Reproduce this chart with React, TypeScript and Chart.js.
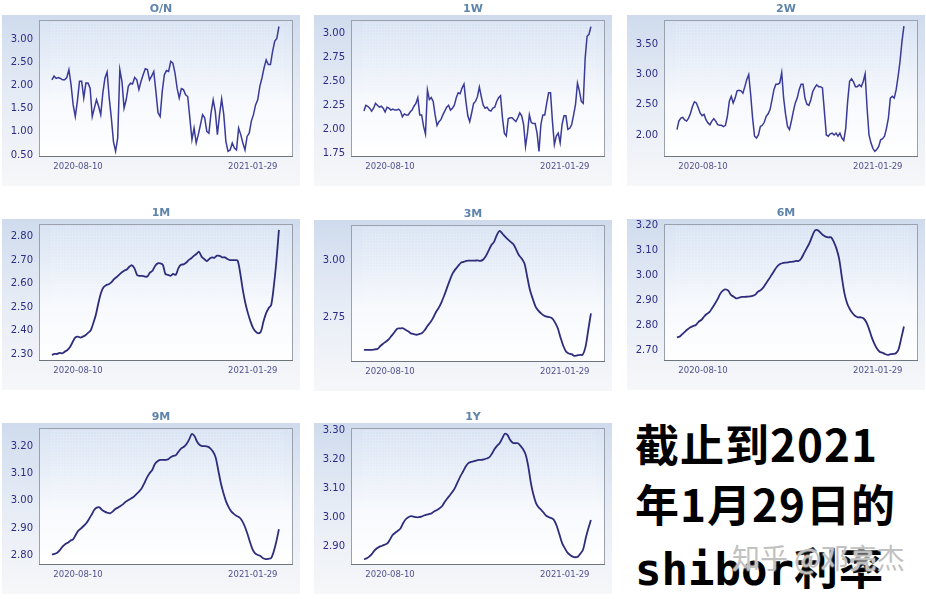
import React, { useEffect, useRef } from 'react';
import { Chart, registerables } from 'chart.js';

Chart.register(...registerables);

// ---------------- data ----------------
const X_TICK_LABELS = ['2020-08-10', '2021-01-29'];
const X_TICK_POS = [0.115, 0.885];

const ON_TICKS = [0.5, 1.0, 1.5, 2.0, 2.5, 3.0];
const ON_VALUES = [
  2.12, 2.20, 2.15, 2.17, 2.15, 2.12, 2.12, 2.17, 2.34, 2.02, 1.58, 1.33, 1.66, 2.09, 2.09, 1.73, 2.05, 2.05,
  1.94, 1.33, 1.51, 1.69, 1.55, 1.37, 1.84, 2.16, 2.29, 1.73, 1.30, 0.79, 0.58, 0.87, 2.34, 2.09, 1.51, 1.69,
  1.98, 2.05, 2.03, 2.17, 2.12, 1.91, 2.09, 2.23, 2.36, 2.34, 2.12, 2.20, 2.30, 1.87, 1.41, 1.33, 1.87, 2.23,
  2.32, 2.30, 2.52, 2.48, 2.27, 1.94, 1.73, 1.93, 1.91, 1.80, 1.76, 1.30, 0.83, 1.08, 0.76, 0.94, 1.15, 1.37,
  1.30, 1.01, 0.97, 1.41, 1.69, 1.44, 0.94, 1.37, 1.71, 1.37, 0.79, 0.58, 0.61, 0.76, 0.65, 0.61, 1.08, 0.94,
  0.76, 0.61, 0.90, 0.97, 1.23, 1.37, 1.58, 1.69, 1.98, 2.16, 2.38, 2.55, 2.45, 2.45, 2.73, 2.95, 3.01, 3.27,
];

const W1_TICKS = [1.75, 2.0, 2.25, 2.5, 2.75, 3.0];
const W1_VALUES = [
  2.19, 2.25, 2.24, 2.22, 2.19, 2.22, 2.27, 2.25, 2.23, 2.24, 2.22, 2.18, 2.23, 2.22, 2.20, 2.21, 2.20, 2.20,
  2.21, 2.19, 2.13, 2.16, 2.15, 2.15, 2.18, 2.20, 2.24, 2.27, 2.33, 2.15, 2.15, 2.03, 1.95, 2.41, 2.31, 2.33,
  2.29, 2.15, 2.04, 2.08, 2.10, 2.15, 2.19, 2.23, 2.25, 2.20, 2.22, 2.25, 2.33, 2.38, 2.37, 2.43, 2.47, 2.29,
  2.14, 2.08, 2.17, 2.27, 2.29, 2.34, 2.44, 2.34, 2.25, 2.22, 2.23, 2.20, 2.19, 2.22, 2.23, 2.29, 2.33, 2.35,
  2.12, 1.96, 1.93, 2.11, 2.12, 2.12, 2.10, 2.08, 2.12, 2.17, 2.14, 2.05, 1.82, 1.96, 2.15, 2.07, 2.06, 2.06,
  1.96, 1.77, 2.05, 2.15, 2.15, 2.27, 2.38, 2.38, 2.08, 1.84, 1.93, 1.96, 1.86, 2.05, 2.14, 2.14, 2.00, 2.01,
  2.05, 2.15, 2.26, 2.48, 2.40, 2.29, 2.27, 2.74, 2.97, 2.99, 3.07,
];

const W2_TICKS = [2.0, 2.5, 3.0, 3.5];
const W2_VALUES = [
  2.09, 2.23, 2.28, 2.29, 2.25, 2.23, 2.28, 2.36, 2.47, 2.55, 2.53, 2.45, 2.36, 2.32, 2.34, 2.25, 2.20, 2.17,
  2.23, 2.27, 2.23, 2.17, 2.16, 2.16, 2.14, 2.16, 2.31, 2.56, 2.64, 2.53, 2.61, 2.73, 2.74, 2.73, 2.69, 2.80,
  2.92, 3.00, 2.67, 2.28, 1.98, 1.95, 2.00, 2.14, 2.16, 2.21, 2.31, 2.35, 2.42, 2.58, 2.75, 2.84, 2.84, 2.86,
  3.03, 2.61, 2.34, 2.14, 2.09, 2.23, 2.39, 2.53, 2.61, 2.75, 2.84, 2.84, 2.61, 2.51, 2.49, 2.58, 2.72, 2.78,
  2.83, 2.80, 2.80, 2.78, 2.39, 2.00, 1.98, 2.02, 2.03, 2.00, 2.03, 1.98, 2.03, 1.95, 1.91, 2.11, 2.56, 2.89,
  2.93, 2.88, 2.80, 2.80, 2.83, 2.80, 2.88, 3.01, 2.45, 2.00, 1.87, 1.78, 1.73, 1.76, 1.81, 1.92, 1.94, 1.98,
  2.11, 2.28, 2.61, 2.64, 2.61, 2.75, 2.97, 3.22, 3.55, 3.80,
];

const M1_TICKS = [2.3, 2.4, 2.5, 2.6, 2.7, 2.8];
const M1_VALUES = [
  2.296, 2.300, 2.300, 2.305, 2.303, 2.310, 2.317, 2.330, 2.350, 2.370, 2.374, 2.370, 2.374, 2.380, 2.390,
  2.400, 2.430, 2.466, 2.516, 2.560, 2.584, 2.593, 2.597, 2.605, 2.618, 2.627, 2.637, 2.647, 2.655, 2.660,
  2.672, 2.678, 2.665, 2.637, 2.633, 2.633, 2.630, 2.630, 2.647, 2.655, 2.675, 2.686, 2.686, 2.680, 2.641,
  2.637, 2.633, 2.641, 2.637, 2.665, 2.680, 2.682, 2.689, 2.700, 2.708, 2.718, 2.726, 2.736, 2.715, 2.705,
  2.696, 2.705, 2.712, 2.710, 2.719, 2.718, 2.712, 2.712, 2.705, 2.700, 2.700, 2.700, 2.698, 2.644, 2.573,
  2.516, 2.473, 2.438, 2.410, 2.395, 2.388, 2.395, 2.438, 2.473, 2.495, 2.509, 2.587, 2.694, 2.829,
];

const M3_TICKS = [2.75, 3.0];
const M3_VALUES = [
  2.604, 2.604, 2.604, 2.604, 2.606, 2.609, 2.622, 2.632, 2.641, 2.652, 2.667, 2.682, 2.698, 2.699, 2.700,
  2.693, 2.686, 2.677, 2.674, 2.671, 2.674, 2.679, 2.692, 2.711, 2.726, 2.746, 2.771, 2.790, 2.815, 2.845,
  2.879, 2.912, 2.942, 2.961, 2.976, 2.990, 2.994, 2.999, 3.000, 3.000, 3.000, 3.001, 2.999, 3.004, 3.019,
  3.043, 3.068, 3.083, 3.113, 3.132, 3.120, 3.106, 3.094, 3.083, 3.073, 3.049, 3.024, 3.009, 2.987, 2.927,
  2.868, 2.830, 2.796, 2.778, 2.766, 2.756, 2.751, 2.749, 2.744, 2.726, 2.701, 2.659, 2.622, 2.597, 2.588,
  2.585, 2.577, 2.579, 2.582, 2.582, 2.615, 2.689, 2.766,
];

const M6_TICKS = [2.7, 2.8, 2.9, 3.0, 3.1, 3.2];
const M6_VALUES = [
  2.753, 2.756, 2.766, 2.776, 2.785, 2.793, 2.798, 2.802, 2.815, 2.822, 2.835, 2.846, 2.853, 2.869, 2.886,
  2.904, 2.926, 2.939, 2.944, 2.939, 2.922, 2.915, 2.908, 2.911, 2.914, 2.914, 2.915, 2.916, 2.918, 2.923,
  2.935, 2.941, 2.952, 2.968, 2.984, 3.001, 3.018, 3.034, 3.044, 3.048, 3.050, 3.051, 3.053, 3.054, 3.057,
  3.057, 3.067, 3.087, 3.107, 3.127, 3.154, 3.177, 3.180, 3.171, 3.160, 3.154, 3.151, 3.151, 3.134, 3.107,
  3.067, 2.994, 2.928, 2.888, 2.865, 2.849, 2.838, 2.833, 2.833, 2.829, 2.815, 2.789, 2.756, 2.729, 2.709,
  2.696, 2.692, 2.687, 2.683, 2.686, 2.687, 2.690, 2.705, 2.749, 2.796,
];

const M9_TICKS = [2.8, 2.9, 3.0, 3.1, 3.2];
const M9_VALUES = [
  2.802, 2.804, 2.808, 2.818, 2.831, 2.840, 2.845, 2.853, 2.858, 2.874, 2.890, 2.898, 2.907, 2.917, 2.932,
  2.948, 2.966, 2.975, 2.976, 2.966, 2.960, 2.956, 2.954, 2.960, 2.970, 2.975, 2.981, 2.988, 2.997, 3.003,
  3.009, 3.015, 3.025, 3.034, 3.046, 3.065, 3.086, 3.102, 3.114, 3.136, 3.146, 3.151, 3.151, 3.151, 3.153,
  3.161, 3.166, 3.169, 3.182, 3.194, 3.200, 3.210, 3.227, 3.247, 3.239, 3.218, 3.206, 3.202, 3.202, 3.200,
  3.194, 3.182, 3.161, 3.114, 3.065, 3.028, 2.997, 2.976, 2.960, 2.951, 2.944, 2.939, 2.927, 2.907, 2.880,
  2.849, 2.821, 2.806, 2.800, 2.796, 2.788, 2.785, 2.786, 2.788, 2.812, 2.849, 2.895,
];

const Y1_TICKS = [2.9, 3.0, 3.1, 3.2, 3.3];
const Y1_VALUES = [
  2.854, 2.857, 2.863, 2.872, 2.884, 2.892, 2.898, 2.901, 2.905, 2.909, 2.923, 2.938, 2.946, 2.953, 2.961,
  2.979, 2.993, 3.000, 3.004, 3.002, 3.000, 3.000, 3.002, 3.006, 3.009, 3.011, 3.014, 3.021, 3.025, 3.031,
  3.039, 3.054, 3.066, 3.077, 3.089, 3.104, 3.124, 3.143, 3.159, 3.176, 3.188, 3.192, 3.194, 3.197, 3.199,
  3.199, 3.201, 3.204, 3.208, 3.220, 3.236, 3.248, 3.257, 3.274, 3.290, 3.286, 3.269, 3.259, 3.257, 3.257,
  3.248, 3.236, 3.217, 3.176, 3.118, 3.077, 3.048, 3.034, 3.025, 3.014, 3.004, 3.000, 2.996, 2.988, 2.967,
  2.938, 2.909, 2.892, 2.877, 2.869, 2.863, 2.861, 2.863, 2.874, 2.888, 2.927, 2.961, 2.990,
];

const TITLES = ['O/N', '1W', '2W', '1M', '3M', '6M', '9M', '1Y'];
const SERIES = [ON_VALUES, W1_VALUES, W2_VALUES, M1_VALUES, M3_VALUES, M6_VALUES, M9_VALUES, Y1_VALUES];
const TICKS = [ON_TICKS, W1_TICKS, W2_TICKS, M1_TICKS, M3_TICKS, M6_TICKS, M9_TICKS, Y1_TICKS];
const Y_MIN = [0.457, 1.711, 1.636, 2.27, 2.55, 2.659, 2.763, 2.834];
const Y_MAX = [3.41, 3.139, 3.902, 2.854, 3.158, 3.204, 3.269, 3.31];

const TEXT_LINES = ['截止到2021', '年1月29日的'];
const TEXT_LINE3_LATIN = 'shibor';
const TEXT_LINE3_CJK = '利率';
const WATERMARK = '知乎 @邓亮杰';

// ---------------- layout ----------------
const CANVAS_W = 306;
const CANVAS_H = 195;
const POS = [
  [0, 0], [312, 0], [625, 0],
  [0, 204], [312, 205], [625, 204],
  [0, 408], [312, 408],
];

const panelPlugin = {
  id: 'panelDeco',
  beforeDraw(chart: any, _args: any, opts: any) {
    const { ctx, chartArea: a } = chart;
    ctx.save();
    const g = ctx.createLinearGradient(0, 15, 0, 186);
    g.addColorStop(0, '#cfdbed');
    g.addColorStop(0.45, '#e5ebf5');
    g.addColorStop(1, '#f6f7f9');
    ctx.fillStyle = g;
    ctx.fillRect(2, 15, 298, 171);

    const p = ctx.createLinearGradient(0, a.top, 0, a.bottom);
    p.addColorStop(0, '#d8e3f3');
    p.addColorStop(0.6, '#f7f9fd');
    p.addColorStop(1, '#ffffff');
    ctx.fillStyle = p;
    ctx.fillRect(a.left, a.top, a.right - a.left, a.bottom - a.top);

    // fine grid texture
    ctx.strokeStyle = 'rgba(255,255,255,0.13)';
    ctx.lineWidth = 1;
    ctx.beginPath();
    const texBottom = a.top + (a.bottom - a.top) * 0.7;
    for (let x = a.left + 12; x < a.right - 10; x += 3) {
      ctx.moveTo(x + 0.5, a.top + 3);
      ctx.lineTo(x + 0.5, texBottom);
    }
    for (let y = a.top + 3; y < texBottom; y += 3) {
      ctx.moveTo(a.left + 12, y + 0.5);
      ctx.lineTo(a.right - 10, y + 0.5);
    }
    ctx.stroke();

    ctx.fillStyle = '#5f84ab';
    ctx.font = 'bold 11px "DejaVu Sans"';
    ctx.textAlign = 'center';
    ctx.textBaseline = 'middle';
    ctx.fillText(opts.title, 161, 9);
    ctx.restore();
  },
  afterDraw(chart: any) {
    const { ctx, chartArea: a } = chart;
    ctx.save();
    ctx.strokeStyle = '#9aa1aa';
    ctx.lineWidth = 1;
    ctx.strokeRect(a.left + 0.5, a.top + 0.5, a.right - a.left - 1, a.bottom - a.top - 1);
    ctx.strokeStyle = '#6f757c';
    ctx.beginPath();
    ctx.moveTo(a.left, a.bottom - 0.5);
    ctx.lineTo(a.right, a.bottom - 0.5);
    ctx.stroke();
    ctx.restore();
  },
};

function Panel({ idx }: { idx: number }) {
  const ref = useRef<HTMLCanvasElement | null>(null);
  useEffect(() => {
    const values = SERIES[idx];
    const ticks = TICKS[idx];
    const n = values.length;
    const smooth = idx >= 3;
    const chart = new Chart(ref.current as HTMLCanvasElement, {
      type: 'line',
      data: {
        datasets: [
          {
            data: values.map((v, i) => ({ x: i / (n - 1), y: v })),
            borderColor: smooth ? '#2d2d7c' : '#3a3a98',
            borderWidth: smooth ? 1.8 : 1.5,
            pointRadius: 0,
            tension: smooth ? 0.3 : 0,
            fill: false,
          },
        ],
      },
      options: {
        animation: false,
        responsive: false,
        maintainAspectRatio: false,
        devicePixelRatio: 1,
        layout: { padding: { left: 0, right: 13, top: 20, bottom: 0 } },
        plugins: {
          legend: { display: false },
          tooltip: { enabled: false },
          title: { display: false },
          panelDeco: { title: TITLES[idx] },
        } as any,
        scales: {
          x: {
            type: 'linear',
            min: -0.057,
            max: 1.062,
            afterBuildTicks: (s: any) => {
              s.ticks = X_TICK_POS.map((v) => ({ value: v }));
            },
            afterFit: (s: any) => {
              s.height = 38;
            },
            ticks: {
              autoSkip: false,
              maxRotation: 0,
              padding: 5,
              color: '#50508f',
              font: { family: 'DejaVu Sans', size: 8.5 },
              callback: (_v: any, i: number) => X_TICK_LABELS[i],
            },
            grid: { display: false, drawTicks: false },
            border: { display: false },
          },
          y: {
            type: 'linear',
            min: Y_MIN[idx],
            max: Y_MAX[idx],
            afterBuildTicks: (s: any) => {
              s.ticks = ticks.map((v) => ({ value: v }));
            },
            afterFit: (s: any) => {
              s.width = 39;
            },
            ticks: {
              autoSkip: false,
              padding: 6,
              color: '#2c2c86',
              font: { family: 'DejaVu Sans', size: 10 },
              callback: (v: any) => Number(v).toFixed(2),
            },
            grid: { display: false, drawTicks: false },
            border: { display: false },
          },
        },
      },
      plugins: [panelPlugin as any],
    });
    return () => chart.destroy();
  }, [idx]);
  const [left, top] = POS[idx];
  return (
    <canvas
      ref={ref}
      width={CANVAS_W}
      height={CANVAS_H}
      style={{ position: 'absolute', left, top, width: CANVAS_W, height: CANVAS_H, display: 'block' }}
    />
  );
}

export default function App() {
  const textStyle: React.CSSProperties = {
    position: 'absolute',
    left: 635,
    fontFamily: '"Noto Sans CJK SC", sans-serif',
    fontWeight: 700,
    fontSize: 44,
    lineHeight: '44px',
    color: '#000',
    whiteSpace: 'nowrap',
    letterSpacing: 1,
  };
  return (
    <div
      style={{
        position: 'fixed',
        left: 0,
        top: 0,
        width: 926,
        height: 599,
        overflow: 'hidden',
        background: '#ffffff',
      }}
    >
      {TITLES.map((_, i) => (
        <Panel key={i} idx={i} />
      ))}
      <div style={{ ...textStyle, top: 421 }}>{TEXT_LINES[0]}</div>
      <div style={{ ...textStyle, top: 481 }}>{TEXT_LINES[1]}</div>
      <div style={{ ...textStyle, top: 544 }}>
        <span style={{ fontFamily: '"DejaVu Sans Mono", monospace', letterSpacing: 0 }}>{TEXT_LINE3_LATIN}</span>
        {TEXT_LINE3_CJK}
      </div>
      <div
        style={{
          position: 'absolute',
          left: 732,
          top: 541,
          fontFamily: '"Noto Sans CJK SC", sans-serif',
          fontSize: 28,
          lineHeight: '32px',
          color: 'rgba(185,185,185,0.88)',
          whiteSpace: 'nowrap',
          textShadow: '0 0 2px #fff, 0 0 2px #fff',
        }}
      >
        {WATERMARK}
      </div>
    </div>
  );
}
